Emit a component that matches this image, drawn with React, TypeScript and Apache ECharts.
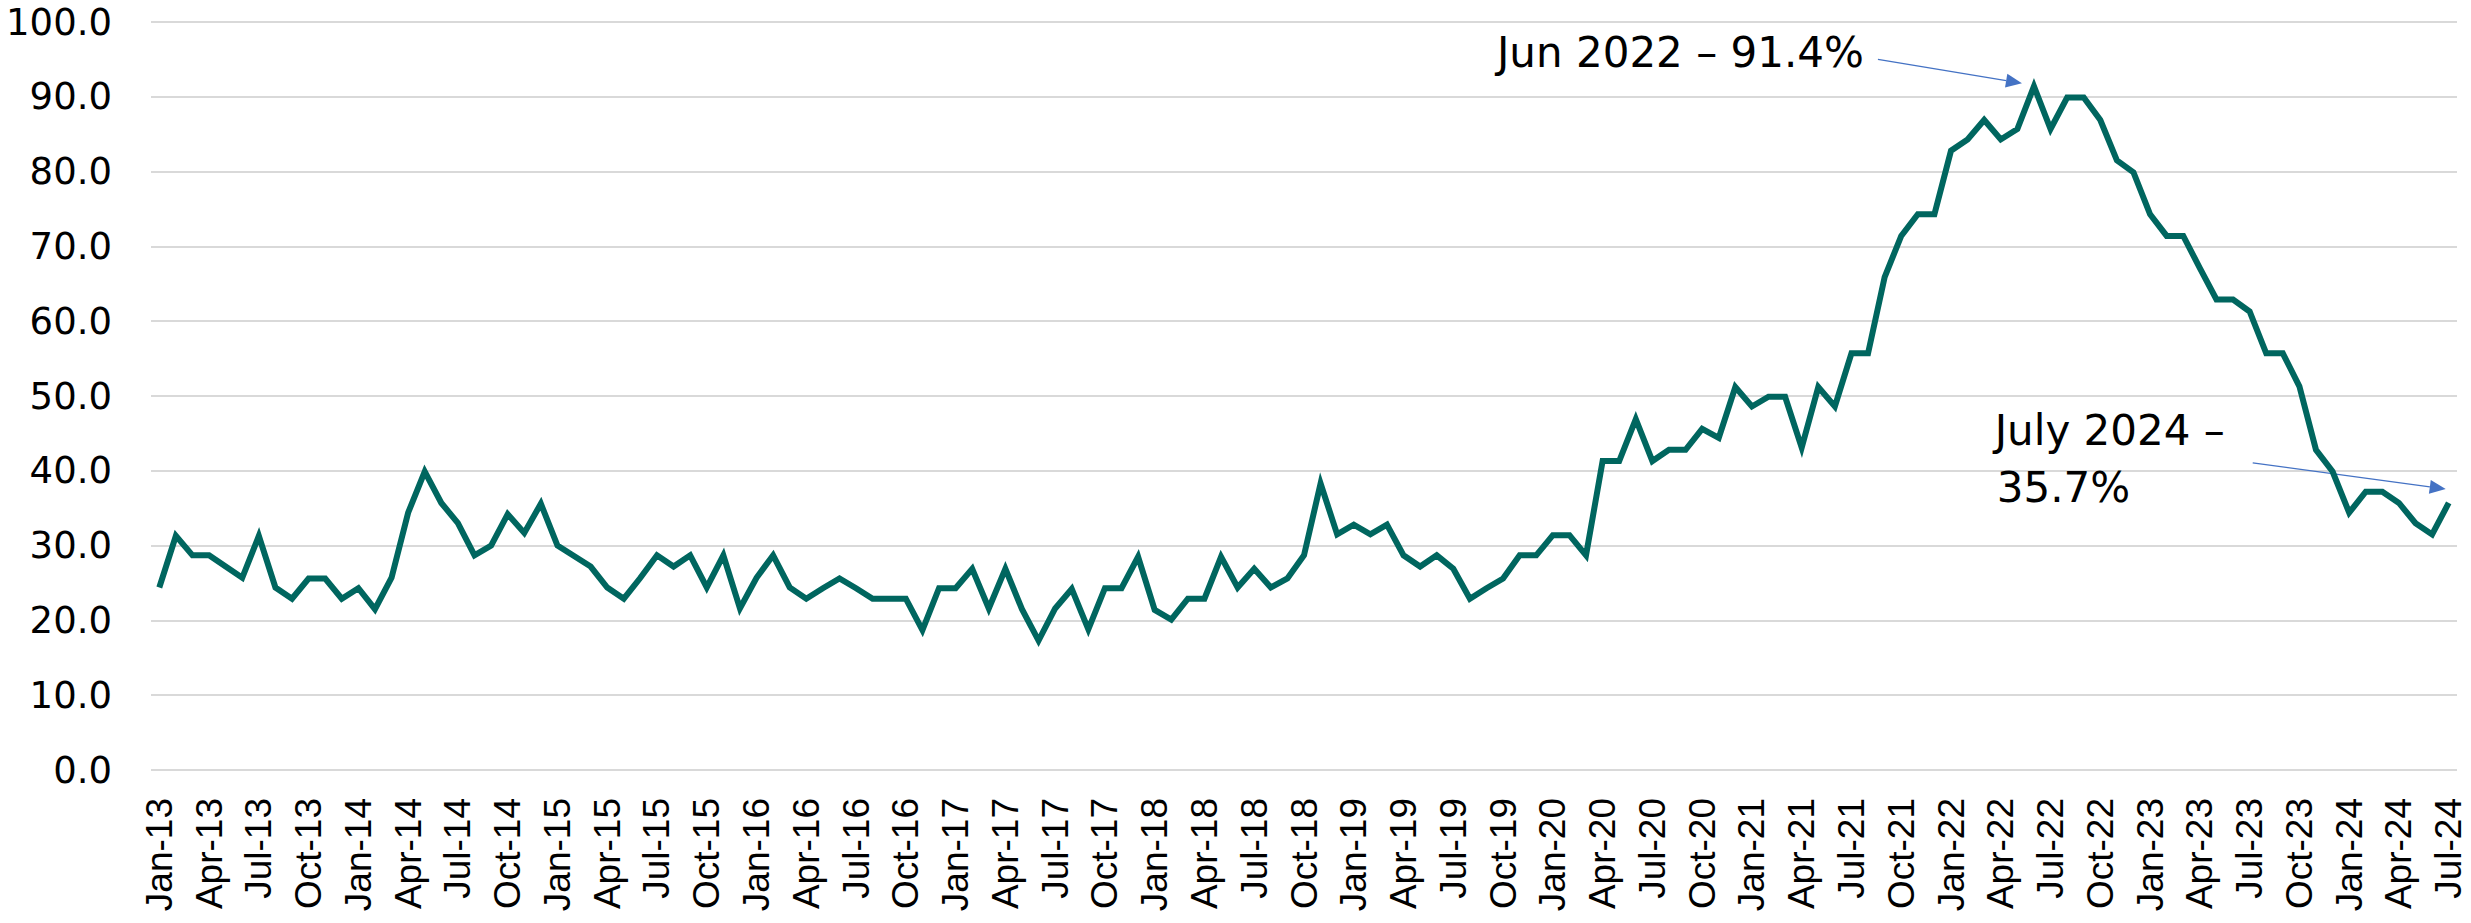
import React, { useEffect, useRef } from "react";
import * as echarts from "echarts";

const MONTHS = ["Jan", "Feb", "Mar", "Apr", "May", "Jun", "Jul", "Aug", "Sep", "Oct", "Nov", "Dec"];
const YEARS = ["13", "14", "15", "16", "17", "18", "19", "20", "21", "22", "23", "24"];

const V2013 = [24.4, 31.3, 28.7, 28.7, 27.2, 25.7, 31.3, 24.4, 22.9, 25.6, 25.6, 22.9];
const V2014 = [24.3, 21.5, 25.7, 34.4, 39.9, 35.7, 33.0, 28.7, 30.0, 34.2, 31.7, 35.6];
const V2015 = [30.0, 28.6, 27.2, 24.4, 22.9, 25.7, 28.7, 27.2, 28.7, 24.4, 28.7, 21.6];
const V2016 = [25.7, 28.7, 24.4, 22.9, 24.3, 25.6, 24.3, 22.9, 22.9, 22.9, 18.7, 24.3];
const V2017 = [24.3, 26.9, 21.6, 26.9, 21.5, 17.3, 21.6, 24.2, 18.8, 24.3, 24.3, 28.5];
const V2018 = [21.4, 20.1, 22.9, 22.9, 28.5, 24.4, 26.9, 24.4, 25.6, 28.7, 38.3, 31.5];
const V2019 = [32.8, 31.5, 32.8, 28.7, 27.2, 28.7, 26.9, 22.9, 24.3, 25.6, 28.7, 28.7];
const V2020 = [31.4, 31.4, 28.7, 41.3, 41.3, 46.9, 41.3, 42.8, 42.8, 45.6, 44.4, 51.2];
const V2021 = [48.6, 49.9, 49.9, 43.1, 51.2, 48.6, 55.7, 55.7, 65.9, 71.4, 74.3, 74.3];
const V2022 = [82.8, 84.3, 86.9, 84.3, 85.7, 91.4, 85.7, 89.9, 89.9, 86.9, 81.5, 79.9];
const V2023 = [74.3, 71.4, 71.4, 67.1, 62.9, 62.9, 61.3, 55.7, 55.7, 51.3, 42.8, 39.9];
const V2024 = [34.4, 37.2, 37.2, 35.7, 33.0, 31.5, 35.7];

const VALUES = [
  ...V2013, ...V2014, ...V2015, ...V2016, ...V2017, ...V2018,
  ...V2019, ...V2020, ...V2021, ...V2022, ...V2023, ...V2024,
];
const CATEGORIES = YEARS.flatMap((y) => MONTHS.map((m) => `${m}-${y}`)).slice(0, VALUES.length);

const Y_MIN = 0;
const Y_MAX = 100;
const Y_INTERVAL = 10;

const PEAK_INDEX = 113;
const PEAK_VALUE = 91.4;
const PEAK_LABEL = "Jun 2022 \u2013 91.4%";
const LAST_INDEX = VALUES.length - 1;
const LAST_VALUE = 35.7;
const LAST_LABEL_1 = "July 2024 \u2013";
const LAST_LABEL_2 = "35.7%";

const LINE_COLOR = "#00665F";
const ARROW_COLOR = "#4472C4";
const WIDE_FONT = "'DejaVu Sans', Verdana, sans-serif";

function arrow(x1: number, y1: number, x2: number, y2: number) {
  const dx = x2 - x1;
  const dy = y2 - y1;
  const len = Math.sqrt(dx * dx + dy * dy);
  const ux = dx / len;
  const uy = dy / len;
  const hl = 16;
  const hw = 7;
  const bx = x2 - ux * hl;
  const by = y2 - uy * hl;
  return [
    {
      type: "line",
      shape: { x1, y1, x2: bx, y2: by },
      style: { stroke: ARROW_COLOR, lineWidth: 1.3 },
      silent: true,
    },
    {
      type: "polygon",
      shape: {
        points: [
          [x2, y2],
          [bx - uy * hw, by + ux * hw],
          [bx + uy * hw, by - ux * hw],
        ],
      },
      style: { fill: ARROW_COLOR },
      silent: true,
    },
  ];
}

export default function App() {
  const ref = useRef<HTMLDivElement>(null);

  useEffect(() => {
    if (!ref.current) return;
    const chart = echarts.init(ref.current, null, { renderer: "svg" });
    chart.setOption({
      animation: false,
      backgroundColor: "#ffffff",
      grid: { left: 151, right: 14, top: 22, bottom: 153, containLabel: false },
      xAxis: {
        type: "category",
        data: CATEGORIES,
        boundaryGap: true,
        axisLine: { show: false },
        axisTick: { show: false },
        axisLabel: {
          interval: 2,
          rotate: 90,
          margin: 28,
          color: "#000000",
          fontSize: 37,
          lineHeight: 37,
          fontFamily: "'Liberation Sans Narrow', 'Liberation Sans', Arial, sans-serif",
        },
        splitLine: { show: false },
      },
      yAxis: {
        type: "value",
        min: Y_MIN,
        max: Y_MAX,
        interval: Y_INTERVAL,
        axisLine: { show: false },
        axisTick: { show: false },
        axisLabel: {
          margin: 39,
          color: "#000000",
          fontSize: 37,
          fontFamily: WIDE_FONT,
          formatter: (v: number) => v.toFixed(1),
        },
        splitLine: { show: true, lineStyle: { color: "#d9d9d9", width: 2 } },
      },
      series: [
        {
          type: "line",
          data: VALUES,
          showSymbol: false,
          symbol: "none",
          lineStyle: { color: LINE_COLOR, width: 6, join: "miter" },
          itemStyle: { color: LINE_COLOR },
        },
      ],
    });

    const P = chart.convertToPixel({ xAxisIndex: 0, yAxisIndex: 0 }, [PEAK_INDEX, PEAK_VALUE]) as number[];
    const L = chart.convertToPixel({ xAxisIndex: 0, yAxisIndex: 0 }, [LAST_INDEX, LAST_VALUE]) as number[];

    chart.setOption({
      graphic: [
        ...arrow(P[0] - 156, P[1] - 27, P[0] - 12, P[1] - 3),
        ...arrow(L[0] - 196, L[1] - 40, L[0] - 3, L[1] - 14),
        {
          type: "text",
          x: P[0] - 170,
          y: P[1] - 34,
          style: {
            text: PEAK_LABEL,
            fontSize: 42,
            fontFamily: WIDE_FONT,
            fill: "#000000",
            align: "right",
            verticalAlign: "middle",
          },
          silent: true,
        },
        {
          type: "text",
          x: L[0] - 454,
          y: L[1] - 72,
          style: {
            text: LAST_LABEL_1,
            fontSize: 42,
            fontFamily: WIDE_FONT,
            fill: "#000000",
            align: "left",
            verticalAlign: "middle",
          },
          silent: true,
        },
        {
          type: "text",
          x: L[0] - 452,
          y: L[1] - 15,
          style: {
            text: LAST_LABEL_2,
            fontSize: 42,
            fontFamily: WIDE_FONT,
            fill: "#000000",
            align: "left",
            verticalAlign: "middle",
          },
          silent: true,
        },
      ],
    });

    return () => chart.dispose();
  }, []);

  return (
    <div
      ref={ref}
      style={{ position: "fixed", left: 0, top: 0, width: 2471, height: 923, background: "#fff" }}
    />
  );
}
